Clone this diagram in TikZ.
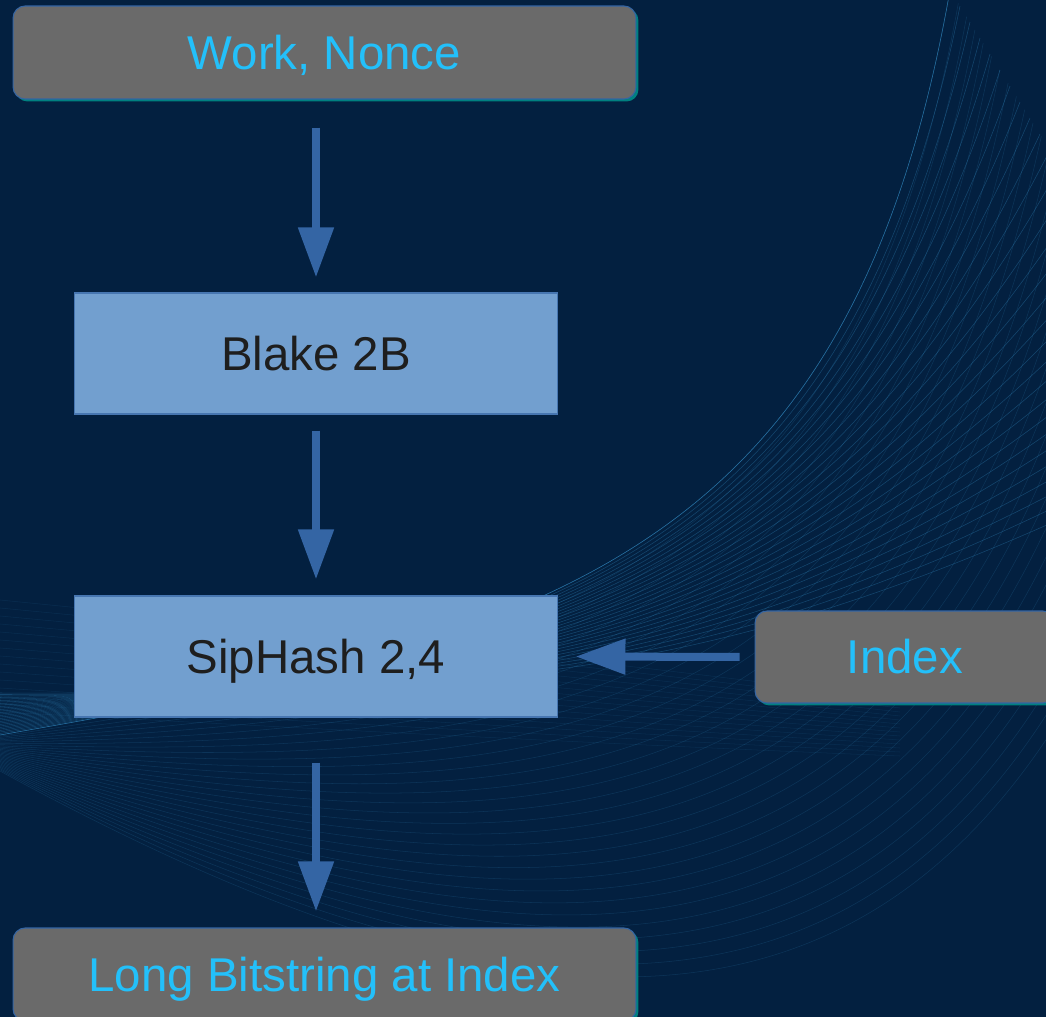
\documentclass[tikz,border=0pt]{standalone}
\usepackage{fontspec}
\setmainfont{Liberation Sans}
\usetikzlibrary{arrows.meta}
\usetikzlibrary{shadows}

\definecolor{navy}{RGB}{3,32,64}
\definecolor{flowblue}{RGB}{52,101,164}
\definecolor{hashfill}{RGB}{114,159,207}
\definecolor{iofill}{RGB}{106,106,106}
\definecolor{iotext}{RGB}{35,192,250}
\definecolor{hashtext}{RGB}{30,30,30}
\definecolor{shadowteal}{RGB}{0,128,128}
\definecolor{wave}{RGB}{60,160,220}

\tikzset{
  iobox/.style={draw=flowblue, line width=0.6pt, fill=iofill, rounded corners=0.24cm,
    text=iotext, font=\fontsize{27}{32}\selectfont, inner sep=0pt,
    text height=19.3pt, text depth=0pt,
    minimum width=12.46cm, minimum height=1.86cm,
    drop shadow={shadow xshift=0.05cm, shadow yshift=-0.05cm, fill=shadowteal, opacity=1}},
  hashbox/.style={draw=flowblue!70!hashfill, line width=0.6pt, fill=hashfill,
    text=hashtext, font=\fontsize{27}{32}\selectfont, inner sep=0pt,
    text height=19.3pt, text depth=0pt,
    minimum width=9.68cm, minimum height=2.42cm},
  flow/.style={flowblue, line width=0.16cm, -{Triangle[width=0.68cm,length=1cm]}},
  waveline/.style={wave, line width=0.3pt, opacity=0.3}
}

\begin{document}
\begin{tikzpicture}[x=0.02cm, y=-0.02cm]

    % background
    \fill[navy] (0,0) rectangle (1046,1017);
    \useasboundingbox (0,0) rectangle (1046,1017);

    % wave lines
    \begin{scope}
      \clip (0,0) rectangle (1046,1017);
      \foreach \i in {0,...,28}
        \draw[waveline] (0,{735-1.5*\i}) .. controls (550,{640+2*\i}) and ({850-3*\i},{560+4*\i}) .. ({950+10*\i},{-10+16*\i});
      \draw[waveline, opacity=0.5] (0,735) .. controls (550,640) and (850,560) .. (950,-10);
      \foreach \i in {1,...,30}
        \draw[waveline, opacity=0.16] (0,{735+1.2*\i}) .. controls ({550+1.7*\i},{640+15.3*\i}) and ({850+5*\i},{560+17.3*\i}) .. ({950+8.3*\i},{-10+13.3*\i});
      \foreach \i in {0,...,14}
        \draw[waveline, opacity=0.1] (0,{600+8*\i}) .. controls (300,{630+7*\i}) and (600,{660+6*\i}) .. (900,{700+4*\i});
    \end{scope}

    % boxes
    \node[iobox] (work) at (324.5,52.5) {Work, Nonce};
    \node[hashbox] (blake) at (316,353.5) {Blake 2B};
    \node[hashbox] (sip) at (316,656.5) {SipHash 2,4};
    \node[iobox, minimum width=6cm, minimum height=1.84cm] (index) at (905,657) {Index};
    \node[iobox] (bits) at (324.5,974.5) {Long Bitstring at Index};

    % arrows
    \draw[flow, shorten <=0.56cm, shorten >=0.3cm] (blake.north |- work.south) -- (blake.north);
    \draw[flow, shorten <=0.32cm, shorten >=0.32cm] (blake.south) -- (sip.north);
    \draw[flow, shorten <=0.9cm, shorten >=0.32cm] (sip.south) -- (sip.south |- bits.north);
    \draw[flow, shorten <=0.3cm, shorten >=0.34cm] (index.west) -- (sip.east);

\end{tikzpicture}
\end{document}
